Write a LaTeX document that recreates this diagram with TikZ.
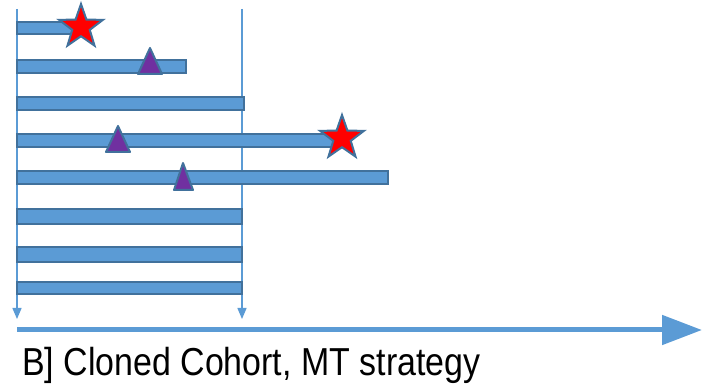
\documentclass[tikz,border=0pt]{standalone}
\usepackage{fontspec}
\setmainfont{Liberation Sans}
\usetikzlibrary{arrows.meta,shapes.geometric}
\definecolor{barfill}{HTML}{5B9BD5}
\definecolor{bardraw}{HTML}{41719C}
\definecolor{trifill}{HTML}{7030A0}
\tikzset{
  bar/.style={fill=barfill,draw=bardraw,line width=2pt},
  guide/.style={draw=barfill,line width=1.3pt,-{Triangle[length=11pt,width=9pt]}},
  axis/.style={draw=barfill,line width=5pt,-{Triangle[length=40pt,width=29pt]}},
  evstar/.style={star,star points=5,star point ratio=2.5,fill=red,draw=bardraw,line width=2pt,minimum size=46pt,inner sep=0pt},
  evtri/.style={fill=trifill,draw=bardraw,line width=2pt,line join=round}
}
\begin{document}
\begin{tikzpicture}[x=1pt,y=-1pt]
\useasboundingbox (0,0) rectangle (702,387);
% guide lines
\coordinate (lt) at (17,9);
\coordinate (lb) at (17,319);
\coordinate (rt) at (242,9);
\coordinate (rb) at (242,319);
\draw[guide] (lt) -- (lb);
\draw[guide] (rt) -- (rb);
% bars
\draw[bar] (17,22) rectangle (76,34);
\draw[bar] (17,60) rectangle (186,73);
\draw[bar] (17,97) rectangle (244,110);
\draw[bar] (17,134) rectangle (340,147);
\draw[bar] (17,171) rectangle (388,184);
\draw[bar] (17,209) rectangle (242,224);
\draw[bar] (17,247) rectangle (242,262);
\draw[bar] (17,282) rectangle (242,294);
% events
\node[evstar] (s1) at (81,27) {};
\node[evstar] (s2) at (342,138) {};
\draw[evtri] (150,48) -- (162,74) -- (138,74) -- cycle;
\draw[evtri] (118,126) -- (130,152) -- (106,152) -- cycle;
\draw[evtri] (183,163) -- (193,190) -- (174,190) -- cycle;
% time axis
\coordinate (a0) at (17,330);
\coordinate (a1) at (702,330);
\draw[axis] (a0) -- (a1);
\node[anchor=base west,inner sep=0pt,font=\fontsize{39}{46}\selectfont,xscale=0.87] (lab) at (22,376) {B] Cloned Cohort, MT strategy};
\end{tikzpicture}
\end{document}
